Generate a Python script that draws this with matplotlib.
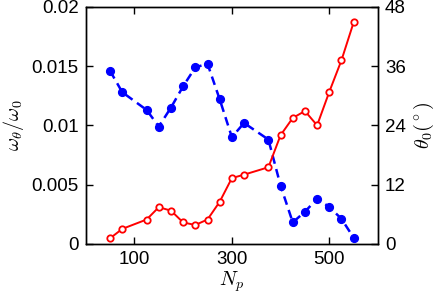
import matplotlib.pyplot as plt
import matplotlib as mpl

mpl.rcParams["font.family"] = ["Liberation Sans", "DejaVu Sans"]
mpl.rcParams["mathtext.fontset"] = "cm"

# ========= data =========
Np = [50, 75, 125, 150, 175, 200, 225, 250, 275, 300,
      325, 375, 400, 425, 450, 475, 500, 525, 550]
omega_ratio = [0.0146, 0.0128, 0.0113, 0.0099, 0.0115, 0.0133, 0.0149, 0.0152, 0.0122, 0.0090,
               0.0102, 0.0088, 0.0049, 0.0018, 0.0027, 0.0038, 0.0031, 0.0021, 0.0005]
theta0 = [1.1, 3.0, 4.9, 7.4, 6.7, 4.3, 3.8, 4.9, 8.5, 13.3,
          14.0, 15.5, 22.0, 25.5, 26.9, 24.0, 30.8, 37.2, 44.9]

x_ticks = [100, 300, 500]
left_ticks = [0, 0.005, 0.01, 0.015, 0.02]
left_ticklabels = ["0", "0.005", "0.01", "0.015", "0.02"]
right_ticks = [0, 12, 24, 36, 48]

fs = 13.5

fig = plt.figure(figsize=(4.36, 3.0), dpi=100)
ax = fig.add_axes([0.1966, 0.1877, 0.6704, 0.789])

ax.plot(Np, omega_ratio, color="#0000ff", lw=1.8, ls=(0, (3.5, 2.2)),
        marker="o", ms=5.6, mec="#0000ff", mfc="#0000ff")
ax.set_xlim(0, 600)
ax.set_ylim(0, 0.02)
ax.set_xticks(x_ticks)
ax.set_yticks(left_ticks)
ax.set_yticklabels(left_ticklabels)
ax.tick_params(direction="in", length=5, width=1, labelsize=fs, top=True, pad=5)
ax.set_xlabel(r"$N_p$", fontsize=fs + 1, labelpad=1)
ax.set_ylabel(r"$\omega_\theta/\omega_0$", fontsize=fs + 1, labelpad=4)

ax2 = ax.twinx()
ax2.plot(Np, theta0, color="#ff0000", lw=1.4, ls="-",
         marker="o", ms=4.6, mec="#ff0000", mfc="white", mew=1.3)
ax2.set_ylim(0, 48)
ax2.set_yticks(right_ticks)
ax2.tick_params(direction="in", length=5, width=1, labelsize=fs, pad=5)
ax2.set_ylabel(r"$\theta_0(^\circ)$", fontsize=fs + 1, labelpad=4)

for a in (ax, ax2):
    for spine in a.spines.values():
        spine.set_linewidth(1.0)

fig.savefig("out.png", dpi=100)
